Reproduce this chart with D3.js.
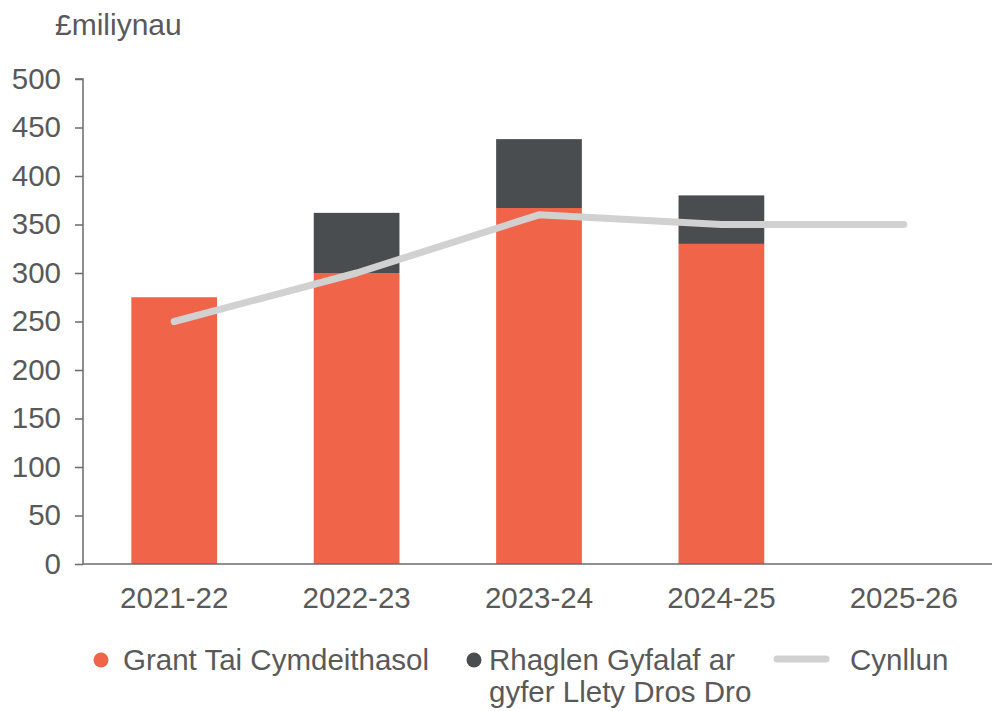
<!DOCTYPE html>
<html>
<head>
<meta charset="utf-8">
<script src="https://cdn.jsdelivr.net/npm/d3@7"></script>
<style>
  html, body { margin: 0; padding: 0; background: #fff; }
  svg { display: block; }
  text { font-family: "Liberation Sans", Arial, sans-serif; fill: #595959; }
</style>
</head>
<body>
<svg id="chart" width="992" height="711"></svg>
<script>
const categories = ["2021-22", "2022-23", "2023-24", "2024-25", "2025-26"];
const grantTai = [275, 300, 367, 330, null];
const rhaglenGyfalaf = [0, 62, 71, 50, null];
const cynllun = [250, 300, 360, 350, 350];
const yTicks = [0, 50, 100, 150, 200, 250, 300, 350, 400, 450, 500];

const colors = { grant: "#f0644a", rhaglen: "#4a4d50", plan: "#d0d1d0", axis: "#6b6b6b" };
const FS = "29.5px";

const svg = d3.select("#chart");
const margin = { left: 83, right: -3, top: 79, bottom: 147 };
const W = 992, H = 711;

const x = d3.scaleBand().domain(categories)
  .range([margin.left, W - margin.right])
  .paddingInner(0.53).paddingOuter(0.265);
const y = d3.scaleLinear().domain([0, 500]).range([H - margin.bottom, margin.top]);

// bars
const rows = categories.map((c, i) => ({ c, g: grantTai[i], r: rhaglenGyfalaf[i] }))
  .filter(d => d.g !== null);

svg.append("g").selectAll("rect.g").data(rows).join("rect")
  .attr("x", d => x(d.c)).attr("width", x.bandwidth())
  .attr("y", d => y(d.g)).attr("height", d => y(0) - y(d.g))
  .attr("fill", colors.grant);

svg.append("g").selectAll("rect.r").data(rows.filter(d => d.r > 0)).join("rect")
  .attr("x", d => x(d.c)).attr("width", x.bandwidth())
  .attr("y", d => y(d.g + d.r)).attr("height", d => y(d.g) - y(d.g + d.r))
  .attr("fill", colors.rhaglen);

// line
const line = d3.line().x((d, i) => x(categories[i]) + x.bandwidth() / 2).y(d => y(d));
svg.append("path").datum(cynllun).attr("d", line)
  .attr("fill", "none").attr("stroke", colors.plan)
  .attr("stroke-width", 7).attr("stroke-linecap", "round").attr("stroke-linejoin", "round");

// y axis
const yAxis = svg.append("g").attr("transform", `translate(${margin.left},0)`)
  .call(d3.axisLeft(y).tickValues(yTicks).tickSize(8).tickPadding(14));
yAxis.selectAll("text").style("font-size", FS).attr("fill", "#595959");
yAxis.selectAll("line, path").attr("stroke", colors.axis).attr("stroke-width", 1.5);
yAxis.select(".domain").attr("d", `M-8,${y(500)}H0V${y(0)}`);

// x axis
const xAxis = svg.append("g").attr("transform", `translate(0,${y(0)})`)
  .call(d3.axisBottom(x).tickSize(0).tickPadding(23));
xAxis.selectAll("text").style("font-size", FS).attr("fill", "#595959");
xAxis.select(".domain").attr("stroke", colors.axis).attr("stroke-width", 1.5)
  .attr("d", `M${margin.left},0H${W}`);

// title
svg.append("text").attr("x", 55).attr("y", 35).style("font-size", "30px").text("£miliynau");

// legend
const lg = svg.append("g");
lg.append("circle").attr("cx", 101).attr("cy", 660).attr("r", 7.5).attr("fill", colors.grant);
lg.append("text").attr("x", 123).attr("y", 670).style("font-size", FS).text("Grant Tai Cymdeithasol");
lg.append("circle").attr("cx", 474).attr("cy", 660).attr("r", 7.5).attr("fill", colors.rhaglen);
const t2 = lg.append("text").attr("x", 489).attr("y", 670).style("font-size", FS);
t2.append("tspan").attr("x", 489).text("Rhaglen Gyfalaf ar");
t2.append("tspan").attr("x", 489).attr("dy", 32).text("gyfer Llety Dros Dro");
lg.append("line").attr("x1", 777).attr("x2", 826).attr("y1", 659).attr("y2", 659)
  .attr("stroke", colors.plan).attr("stroke-width", 7).attr("stroke-linecap", "round");
lg.append("text").attr("x", 850).attr("y", 670).style("font-size", FS).text("Cynllun");
</script>
</body>
</html>
